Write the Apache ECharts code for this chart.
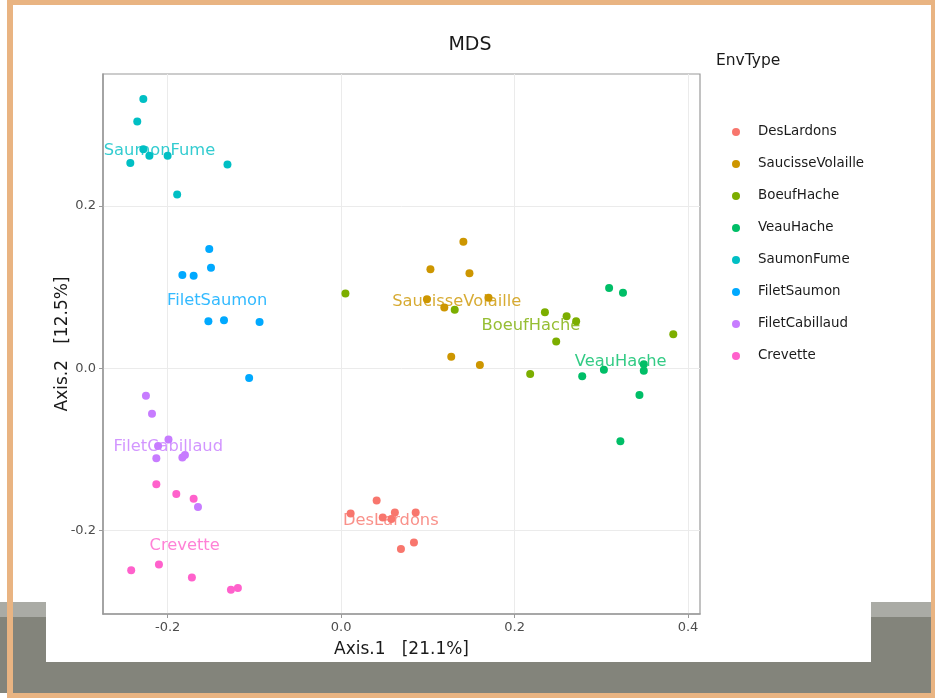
<!DOCTYPE html>
<html>
<head>
<meta charset="utf-8">
<title>MDS</title>
<script src="https://cdn.jsdelivr.net/npm/echarts@6/dist/echarts.min.js"></script>
<style>
  html, body { margin: 0; padding: 0; background: #ffffff; }
  #chart { width: 935px; height: 698px; }
</style>
</head>
<body>
<div id="chart"></div>
<script>
// MDS ordination coordinates (Axis.1, Axis.2) per sample, grouped by EnvType
const envTypes = ['DesLardons', 'SaucisseVolaille', 'BoeufHache', 'VeauHache',
                  'SaumonFume', 'FiletSaumon', 'FiletCabillaud', 'Crevette'];
const envColors = ['#F8766D', '#CD9600', '#7CAE00', '#00BE67',
                   '#00BFC4', '#00A9FF', '#C77CFF', '#FF61CC'];

const DesLardons = [[0.041, -0.163], [0.011, -0.179], [0.048, -0.184], [0.062, -0.178],
                    [0.058, -0.186], [0.086, -0.178], [0.084, -0.215], [0.069, -0.223]];
const SaucisseVolaille = [[0.141, 0.156], [0.103, 0.122], [0.148, 0.117], [0.099, 0.085],
                          [0.170, 0.087], [0.119, 0.075], [0.127, 0.014], [0.160, 0.004]];
const BoeufHache = [[0.005, 0.092], [0.131, 0.072], [0.235, 0.069], [0.260, 0.064],
                    [0.271, 0.058], [0.248, 0.033], [0.383, 0.042], [0.218, -0.007]];
const VeauHache = [[0.309, 0.099], [0.325, 0.093], [0.349, 0.005], [0.349, -0.003],
                   [0.303, -0.002], [0.278, -0.010], [0.344, -0.033], [0.322, -0.090]];
const SaumonFume = [[-0.228, 0.332], [-0.235, 0.304], [-0.228, 0.270], [-0.221, 0.262],
                    [-0.200, 0.262], [-0.243, 0.253], [-0.131, 0.251], [-0.189, 0.214]];
const FiletSaumon = [[-0.152, 0.147], [-0.150, 0.124], [-0.183, 0.115], [-0.170, 0.114],
                     [-0.153, 0.058], [-0.135, 0.059], [-0.094, 0.057], [-0.106, -0.012]];
const FiletCabillaud = [[-0.225, -0.034], [-0.218, -0.056], [-0.199, -0.088], [-0.211, -0.096],
                        [-0.213, -0.111], [-0.183, -0.110], [-0.180, -0.107], [-0.165, -0.171]];
const Crevette = [[-0.213, -0.143], [-0.190, -0.155], [-0.170, -0.161], [-0.242, -0.249],
                  [-0.210, -0.242], [-0.172, -0.258], [-0.127, -0.273], [-0.119, -0.271]];

const groupPoints = [DesLardons, SaucisseVolaille, BoeufHache, VeauHache,
                     SaumonFume, FiletSaumon, FiletCabillaud, Crevette];

// Axis ticks and ranges
const xTicks = [-0.2, 0.0, 0.2, 0.4];
const yTicks = [-0.2, 0.0, 0.2];
const xRange = [-0.2745, 0.4138];
const yRange = [-0.303, 0.3627];

const FONT = 'DejaVu Sans';

function centroid(pts) {
  let sx = 0, sy = 0;
  pts.forEach(p => { sx += p[0]; sy += p[1]; });
  return [sx / pts.length, sy / pts.length];
}

const pointSeries = envTypes.map((name, i) => ({
  name: name,
  type: 'scatter',
  data: groupPoints[i],
  symbol: 'circle',
  symbolSize: 8,
  itemStyle: { color: envColors[i], opacity: 1 },
  z: 2,
  emphasis: { disabled: true }
}));

// Group name written at the centroid of each group
const labelSeries = envTypes.map((name, i) => ({
  name: name + ' label',
  type: 'scatter',
  data: [centroid(groupPoints[i])],
  symbolSize: 1,
  itemStyle: { color: 'rgba(0,0,0,0)' },
  z: 3,
  silent: true,
  label: {
    show: true,
    position: 'inside',
    formatter: name,
    color: envColors[i],
    fontFamily: FONT,
    fontSize: 16.3
  }
}));

const chart = echarts.init(document.getElementById('chart'), null, { renderer: 'canvas' });

const frameColor = '#E9B482';

chart.setOption({
  animation: false,
  backgroundColor: '#ffffff',
  graphic: [
    { type: 'rect', z: -10, shape: { x: 0, y: 602, width: 932, height: 15 }, style: { fill: '#AAABA5' } },
    { type: 'rect', z: -10, shape: { x: 0, y: 617, width: 932, height: 76 }, style: { fill: '#83847B' } },
    { type: 'rect', z: -9, shape: { x: 46, y: 0, width: 825, height: 662 }, style: { fill: '#ffffff' } },
    { type: 'rect', z: 50, shape: { x: 7, y: 0, width: 928, height: 5 }, style: { fill: frameColor } },
    { type: 'rect', z: 50, shape: { x: 7, y: 0, width: 6, height: 698 }, style: { fill: frameColor } },
    { type: 'rect', z: 50, shape: { x: 931, y: 0, width: 4, height: 698 }, style: { fill: frameColor } },
    { type: 'rect', z: 50, shape: { x: 7, y: 693, width: 928, height: 5 }, style: { fill: frameColor } }
  ],
  title: [
    {
      text: 'MDS',
      left: 470, top: 36, padding: 0,
      textAlign: 'center',
      textStyle: { fontFamily: FONT, fontSize: 19, fontWeight: 'normal', color: '#1a1a1a' }
    },
    {
      text: 'EnvType',
      left: 716, top: 53, padding: 0,
      textStyle: { fontFamily: FONT, fontSize: 15.5, fontWeight: 'normal', color: '#1a1a1a' }
    }
  ],
  legend: {
    data: envTypes,
    orient: 'vertical',
    left: 732, top: 116,
    padding: 0,
    itemGap: 0,
    itemWidth: 8, itemHeight: 8,
    icon: 'circle',
    selectedMode: false,
    textStyle: {
      fontFamily: FONT, fontSize: 13.4, color: '#1a1a1a',
      lineHeight: 32, padding: [0, 0, 0, 13]
    }
  },
  grid: {
    left: 103, top: 74, width: 597, height: 540,
    show: true,
    borderColor: '#9a9a9a', borderWidth: 1.2,
    backgroundColor: 'transparent',
    containLabel: false
  },
  xAxis: {
    type: 'value',
    min: xRange[0], max: xRange[1],
    name: 'Axis.1   [21.1%]',
    nameLocation: 'middle',
    nameGap: 27,
    nameTextStyle: { fontFamily: FONT, fontSize: 17, color: '#1a1a1a' },
    axisLine: { show: true, onZero: false, lineStyle: { color: '#9a9a9a', width: 1.5 } },
    axisTick: { show: true, length: 4, customValues: xTicks, lineStyle: { color: '#9a9a9a' } },
    axisLabel: { customValues: xTicks, margin: 7, fontFamily: FONT, fontSize: 13, color: '#4d4d4d',
                 formatter: v => v.toFixed(1) },
    splitLine: { show: true, lineStyle: { color: '#ebebeb', width: 1 } }
  },
  yAxis: {
    type: 'value',
    min: yRange[0], max: yRange[1],
    name: 'Axis.2   [12.5%]',
    nameLocation: 'middle',
    nameGap: 32,
    nameRotate: 90,
    nameMoveOverlap: false,
    nameTextStyle: { fontFamily: FONT, fontSize: 17, color: '#1a1a1a' },
    axisLine: { show: true, onZero: false, lineStyle: { color: '#9a9a9a', width: 1.5 } },
    axisTick: { show: true, length: 4, customValues: yTicks, lineStyle: { color: '#9a9a9a' } },
    axisLabel: { customValues: yTicks, margin: 7, fontFamily: FONT, fontSize: 13, color: '#4d4d4d',
                 formatter: v => v.toFixed(1) },
    splitLine: { show: true, lineStyle: { color: '#ebebeb', width: 1 } }
  },
  series: pointSeries.concat(labelSeries)
});
</script>
</body>
</html>
